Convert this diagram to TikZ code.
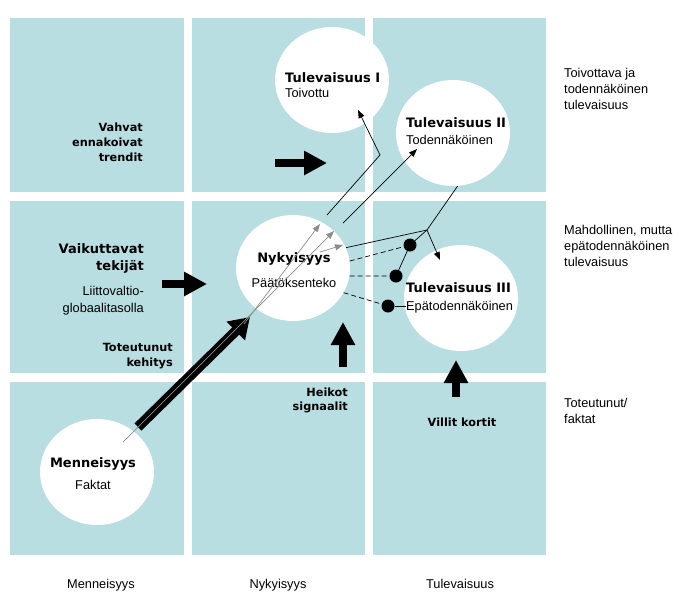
\documentclass[tikz,border=0pt]{standalone}
\usepackage{fontspec}
\setmainfont{Liberation Sans}
\newfontfamily\heavyfont{DejaVu Sans}
\usetikzlibrary{arrows.meta,shapes.geometric}
\definecolor{panel}{RGB}{184,222,226}
\newcommand\hdf{\heavyfont\bfseries\fontsize{13}{17}\selectfont}
\newcommand\smf{\heavyfont\bfseries\fontsize{11.3}{15}\selectfont}
\newcommand\rgf{\fontsize{12.8}{16}\selectfont}
\tikzset{pnl/.style={fill=panel},
 fut/.style={ellipse,fill=white,minimum width=114pt,minimum height=106pt,inner sep=0pt},
 txt/.style={inner sep=0pt,font=\rgf},
 blk/.style={line width=8.5pt,-{Triangle[length=23pt,width=23pt]}},
 big/.style={line width=10pt,-{Triangle[length=20pt,width=25pt]}},
 arr/.style={line width=.7pt,-{Triangle[length=8pt,width=6pt]}},
 gry/.style={arr,draw=black!45},
 lnk/.style={line width=.7pt},
 dsh/.style={lnk,dash pattern=on 5pt off 3pt},
 dot/.style={circle,fill=black,minimum size=13pt,inner sep=0pt}}
\begin{document}
\begin{tikzpicture}[x=1pt,y=-1pt]
\useasboundingbox (0,0) rectangle (683,598);
\foreach \xa/\xb in {10/184,192/365,373/546}
 \foreach \ya/\yb in {18/192,201/373,382/555}
  \fill[pnl] (\xa,\ya) rectangle (\xb,\yb);
\node[fut](tI) at(332,80){};
\node[fut](tII) at(453,133){};
\node[fut](nyk) at(293,268){};
\node[fut](tIII) at(461,298){};
\node[fut](men) at(97,472){};
\node[txt,anchor=north west,align=left](tIt) at(285,72){{\hdf Tulevaisuus I}\\[-1pt]Toivottu};
\node[txt,anchor=north west,align=left](tIIt) at(406,117){{\hdf Tulevaisuus II}\\[1pt]Todennäköinen};
\node[txt,anchor=north,align=center](nykt) at(294,252){{\hdf Nykyisyys}\\[9pt]Päätöksenteko};
\node[txt,anchor=north west,align=left](tIIIt) at(406,282){{\hdf Tulevaisuus III}\\[2pt]Epätodennäköinen};
\node[txt,anchor=north,align=center](ment) at(93,457){{\hdf Menneisyys}\\[6pt]Faktat};
\node[txt,font=\smf,anchor=north east,align=right](vahv) at(143,123){Vahvat\\ennakoivat\\trendit};
\node[txt,font=\hdf,anchor=north east,align=right](vaik) at(144,243){Vaikuttavat\\tekijät};
\node[txt,anchor=north east,align=right](liit) at(144,286){Liittovaltio-\\[1pt]globaalitasolla};
\node[txt,font=\smf,anchor=north east,align=right](tot) at(173,343){Toteutunut\\kehitys};
\node[txt,font=\smf,anchor=north east,align=right](heik) at(348,388){Heikot\\[-1pt]signaalit};
\node[txt,font=\smf,anchor=north](vill) at(462,418){Villit kortit};
\node[txt,anchor=base](cM) at(101,588){Menneisyys};
\node[txt,anchor=base](cN) at(278,588){Nykyisyys};
\node[txt,anchor=base](cT) at(460,588){Tulevaisuus};
\node[txt,anchor=north west,align=left](rA) at(564,68){Toivottava ja\\todennäköinen\\tulevaisuus};
\node[txt,anchor=north west,align=left](rB) at(564,225){Mahdollinen, mutta\\epätodennäköinen\\tulevaisuus};
\node[txt,anchor=north west,align=left](rC) at(564,398){Toteutunut/\\faktat};
\coordinate (a1) at(275,163); \coordinate (a2) at(327,163);
\coordinate (b1) at(162,284); \coordinate (b2) at(207,284);
\coordinate (c1) at(343,367); \coordinate (c2) at(343,322);
\coordinate (e1) at(456,397); \coordinate (e2) at(456,360);
\draw[blk](a1)--(a2); \draw[blk](b1)--(b2);
\draw[blk](c1)--(c2); \draw[blk](e1)--(e2);
\coordinate (m1) at(138,427); \coordinate (m2) at(250,317);
\draw[big](m1)--(m2);
\coordinate (g0) at(123,442); \coordinate (g1) at(334,231);
\coordinate (g2) at(244,324); \coordinate (g3) at(320,224);
\coordinate (g4) at(320,252); \coordinate (g5) at(343,245);
\draw[gry](g0)--(g1); \draw[gry](g2)--(g3); \draw[gry](g4)--(g5);
\coordinate (k1) at(327,215); \coordinate (k2) at(380,155); \coordinate (k3) at(358,110);
\coordinate (k4) at(343,223); \coordinate (k5) at(417,149);
\coordinate (jn) at(427,230); \coordinate (k6) at(440,260);
\draw[arr](k1)--(k2)--(k3);
\draw[arr](k4)--(k5);
\draw[lnk](tII.-85)--(jn);
\draw[arr](jn)--(k6);
\draw[lnk](nyk.21)--(jn);
\node[dot](d1) at(410,245){};
\node[dot](d2) at(396,276){};
\node[dot](d3) at(388,306){};
\draw[lnk](jn)--(d1)--(d2);
\draw[dsh](nyk.7)--(d1);
\draw[dsh](nyk.-8)--(d2);
\draw[dsh](nyk.-26)--(d3);
\draw[lnk](d3)--(d3-|tIIIt.west);
\end{tikzpicture}
\end{document}
